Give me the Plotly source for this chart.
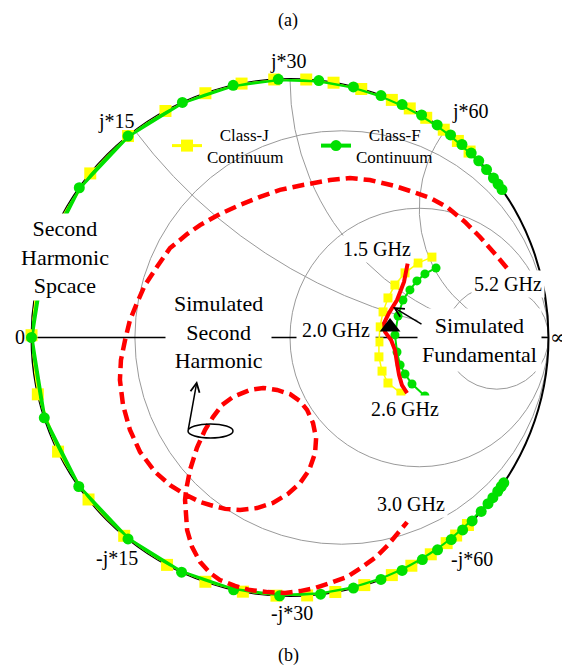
import numpy as np
import plotly.graph_objects as go

# page is 570x667; the html body adds an 8px margin, so the figure is 562x659
PAGE_W, PAGE_H = 570, 667
OFF = 8
W, H = PAGE_W - OFF, PAGE_H - OFF

# ---------------- data (reflection coefficient) ----------------
# Smith-chart grid values (normalized), labels are in ohms (Z0 = 30)
r_grid = [0.25, 1, 4]
x_grid = [0.5, 1, 2]
x_labels = ["j*15", "j*30", "j*60"]
x_labels_neg = ["-j*15", "-j*30", "-j*60"]

# Second-harmonic space continua on the chart edge: angle of Gamma (deg), |Gamma| = 1
classF_edge_angle = [34.9, 36.4, 38.1, 40.5, 43.1, 45.5, 48.3, 51.6, 55.3, 59.4, 64.3,
                     69.4, 75.8, 83.6, 92.6, 102.7, 114.6, 128.8, 144.6, 161.9, 180.0,
                     -161.9, -144.8, -128.8, -114.8, -102.6, -92.3, -83.2, -75.8, -69.4,
                     -64.3, -59.2, -55.2, -51.4, -48.1, -45.2, -42.3, -40.0, -38.3,
                     -36.5, -35.2, -34.2]
classJ_edge_angle = [46.0, 49.5, 53.5, 58.2, 62.4, 66.8, 74.0, 80.3, 86.4, 93.5, 100.8,
                     109.1, 118.8, 128.8, 140.6, 153.0, 167.0, 179.5, -167.3, -153.8,
                     -141.2, -129.9, -118.4, -109.1, -100.5, -93.0, -86.2, -79.9, -73.3,
                     -66.8, -62.0, -57.0, -52.7, -50.0, -46.5]
edge_mag = 1.0

# Fundamental continua (1.5 - 2.6 GHz): Gamma real / imag
classJ_f0_gr = [0.549, 0.495, 0.445, 0.406, 0.379, 0.360, 0.348, 0.344, 0.344, 0.356, 0.379, 0.429]
classJ_f0_gi = [0.311, 0.288, 0.250, 0.203, 0.153, 0.099, 0.041, -0.017, -0.075, -0.130, -0.176, -0.215]
classF_f0_gr = [0.565, 0.522, 0.491, 0.464, 0.437, 0.418, 0.406, 0.414, 0.426, 0.445, 0.472, 0.522]
classF_f0_gi = [0.269, 0.246, 0.219, 0.184, 0.145, 0.083, 0.010, -0.056, -0.106, -0.141, -0.180, -0.226]

# Simulated fundamental (1.5 -> 2.6 GHz)
sim_f0_gr = [0.455, 0.441, 0.414, 0.383, 0.364, 0.368, 0.391, 0.406, 0.414, 0.422, 0.433, 0.453]
sim_f0_gi = [0.286, 0.215, 0.145, 0.095, 0.056, 0.021, -0.010, -0.048, -0.099, -0.145, -0.184, -0.215]
# 2.0 GHz point
sim_2g_gr = [0.387]
sim_2g_gi = [0.041]

# Simulated second harmonic (5.2 GHz -> 3.0 GHz)
sim_2f_gr = [0.839, 0.797, 0.735, 0.677, 0.607, 0.542, 0.476, 0.406, 0.309, 0.232, 0.155,
             0.050, -0.039, -0.116, -0.193, -0.271, -0.348, -0.398, -0.464, -0.515, -0.561,
             -0.592, -0.619, -0.638, -0.654, -0.658, -0.646, -0.619, -0.580, -0.522, -0.464,
             -0.410, -0.348, -0.309, -0.251, -0.193, -0.128, -0.066, -0.008, 0.039, 0.074,
             0.097, 0.101, 0.089, 0.066, 0.039, 0.000, -0.050, -0.104, -0.155, -0.221,
             -0.263, -0.298, -0.329, -0.360, -0.387, -0.402, -0.406, -0.402, -0.398, -0.379,
             -0.348, -0.309, -0.271, -0.213, -0.155, -0.085, -0.019, 0.039, 0.097, 0.155,
             0.221, 0.279, 0.333, 0.379, 0.418, 0.453]
sim_2f_gi = [0.269, 0.319, 0.389, 0.447, 0.505, 0.540, 0.563, 0.586, 0.609, 0.617, 0.609,
             0.590, 0.571, 0.544, 0.513, 0.478, 0.435, 0.400, 0.346, 0.273, 0.203,
             0.133, 0.068, -0.010, -0.087, -0.164, -0.261, -0.358, -0.443, -0.520, -0.571,
             -0.605, -0.636, -0.648, -0.663, -0.667, -0.660, -0.640, -0.605, -0.563, -0.513,
             -0.447, -0.389, -0.331, -0.280, -0.246, -0.219, -0.203, -0.195, -0.203, -0.230,
             -0.261, -0.308, -0.358, -0.427, -0.513, -0.590, -0.629, -0.687, -0.745, -0.810,
             -0.868, -0.911, -0.938, -0.961, -0.977, -0.985, -0.988, -0.981, -0.969, -0.950,
             -0.926, -0.888, -0.849, -0.803, -0.756, -0.714]


# ---------------- helpers ----------------
def g2z(gr, gi):
    g = np.asarray(gr, float) + 1j * np.asarray(gi, float)
    z = (1 + g) / (1 - g)
    return np.clip(z.real, 0, None), z.imag


def edge2z(angles, mag):
    g = mag * np.exp(1j * np.deg2rad(np.asarray(angles, float)))
    return g2z(g.real, g.imag)


def P(px, py):
    """page pixel -> paper coordinate"""
    return (px - OFF) / W, 1 - (py - OFF) / H


GRID = "#9a9a9a"
YEL = "#FFFF00"
GRN = "#00E000"
RED = "#FF0000"
FONT = "Liberation Serif, Times New Roman, serif"
NB = "&nbsp;" * 3

fig = go.Figure()

# class-J edge
zr, zi = edge2z(classJ_edge_angle, edge_mag)
fig.add_trace(go.Scattersmith(real=zr, imag=zi, mode="lines+markers",
                              name=NB + "Class-J<br>Continuum",
                              line=dict(color=YEL, width=3),
                              marker=dict(symbol="square", size=12, color=YEL),
                              legend="legend"))
# class-F edge
zr, zi = edge2z(classF_edge_angle, edge_mag)
fig.add_trace(go.Scattersmith(real=zr, imag=zi, mode="lines+markers",
                              name=NB + "Class-F<br>Continuum",
                              line=dict(color=GRN, width=4),
                              marker=dict(symbol="circle", size=11, color=GRN),
                              legend="legend2"))
# fundamental continua
zr, zi = g2z(classJ_f0_gr, classJ_f0_gi)
fig.add_trace(go.Scattersmith(real=zr, imag=zi, mode="lines+markers", showlegend=False,
                              line=dict(color=YEL, width=1.5),
                              marker=dict(symbol="square", size=9, color=YEL)))
zr, zi = g2z(classF_f0_gr, classF_f0_gi)
fig.add_trace(go.Scattersmith(real=zr, imag=zi, mode="lines+markers", showlegend=False,
                              line=dict(color=GRN, width=2),
                              marker=dict(symbol="circle", size=9, color=GRN)))
# simulated second harmonic
zr, zi = g2z(sim_2f_gr, sim_2f_gi)
fig.add_trace(go.Scattersmith(real=zr, imag=zi, mode="lines", showlegend=False,
                              line=dict(color=RED, width=4.5, dash="12px,6px")))
# simulated fundamental
zr, zi = g2z(sim_f0_gr, sim_f0_gi)
fig.add_trace(go.Scattersmith(real=zr, imag=zi, mode="lines", showlegend=False,
                              line=dict(color=RED, width=4)))
zr, zi = g2z(sim_2g_gr, sim_2g_gi)
fig.add_trace(go.Scattersmith(real=zr, imag=zi, mode="markers", showlegend=False,
                              marker=dict(symbol="triangle-up", size=18, color="black")))

# ---------------- annotations ----------------
ann = []


def label(text, px, py, size=20, bg=None, pad=1, family=FONT):
    x, y = P(px, py)
    d = dict(text=text, x=x, y=y, xref="paper", yref="paper", showarrow=False,
             font=dict(family=family, size=size, color="black"), xanchor="center",
             yanchor="middle", borderpad=pad)
    if bg:
        d["bgcolor"] = bg
    ann.append(d)


label("(a)", 288, 21, 18)
label("(b)", 288, 655, 18)
for t, (px, py) in zip(x_labels, [(117, 121), (288, 61), (470, 111)]):
    label(t, px, py, 20)
for t, (px, py) in zip(x_labels_neg, [(117, 558), (292, 613), (472, 559)]):
    label(t, px, py, 20)
label("0", 20, 337, 20)
label("∞", 558, 337, 20, family="DejaVu Serif, serif")
label("Second<br>Harmonic<br>Spcace", 65, 257, 22, "white", 2)
label("Simulated<br>Second<br>Harmonic", 218, 332, 22, "white", 8)
label("Simulated<br>Fundamental", 479, 340, 22, "white", 4)
label("2.0 GHz", 336, 330, 20, "white", 5)
label("1.5 GHz", 377, 249, 20, "white", 2)
label("5.2 GHz", 508, 284, 20, "white", 2)
label("2.6 GHz", 405, 409, 20, "white", 2)
label("3.0 GHz", 411, 504, 20, "white", 2)


def arrow(hx, hy, tx, ty):
    x, y = P(hx, hy)
    ann.append(dict(text="", x=x, y=y, xref="paper", yref="paper", showarrow=True,
                    ax=tx - hx, ay=ty - hy, axref="pixel", ayref="pixel",
                    arrowhead=5, arrowsize=1.2, arrowwidth=1.5, arrowcolor="black"))


arrow(393, 307, 423, 325)
arrow(197, 381, 188, 431)

x0, y0 = P(188, 438)
x1, y1 = P(233, 424)
shapes = [dict(type="circle", xref="paper", yref="paper", x0=x0, y0=y0, x1=x1, y1=y1,
               line=dict(color="black", width=1.5))]

cx, cy, R = 290, 337.5, 258.5
dx0, dy1 = P(cx - R, cy - R)
dx1, dy0 = P(cx + R, cy + R)

lx1, ly1 = P(167, 146)
lx2, ly2 = P(316, 146)

fig.update_layout(
    width=W, height=H, margin=dict(l=0, r=0, t=0, b=0),
    paper_bgcolor="white", plot_bgcolor="white",
    font=dict(family=FONT, color="black"),
    annotations=ann, shapes=shapes,
    smith=dict(
        domain=dict(x=[dx0, dx1], y=[dy0, dy1]),
        bgcolor="white",
        realaxis=dict(tickvals=r_grid, showticklabels=False, ticks="",
                      gridcolor=GRID, gridwidth=1, showline=True,
                      linecolor="black", linewidth=1.5, layer="below traces"),
        imaginaryaxis=dict(tickvals=x_grid, showticklabels=False, ticks="",
                           gridcolor=GRID, gridwidth=1, showline=True,
                           linecolor="black", linewidth=2, layer="below traces"),
    ),
    legend=dict(x=lx1, y=ly1, xanchor="left", yanchor="middle", bgcolor="rgba(0,0,0,0)",
                font=dict(family=FONT, size=17, color="black")),
    legend2=dict(x=lx2, y=ly2, xanchor="left", yanchor="middle", bgcolor="rgba(0,0,0,0)",
                 font=dict(family=FONT, size=17, color="black")),
    showlegend=True,
)

fig.write_html("out.html")
